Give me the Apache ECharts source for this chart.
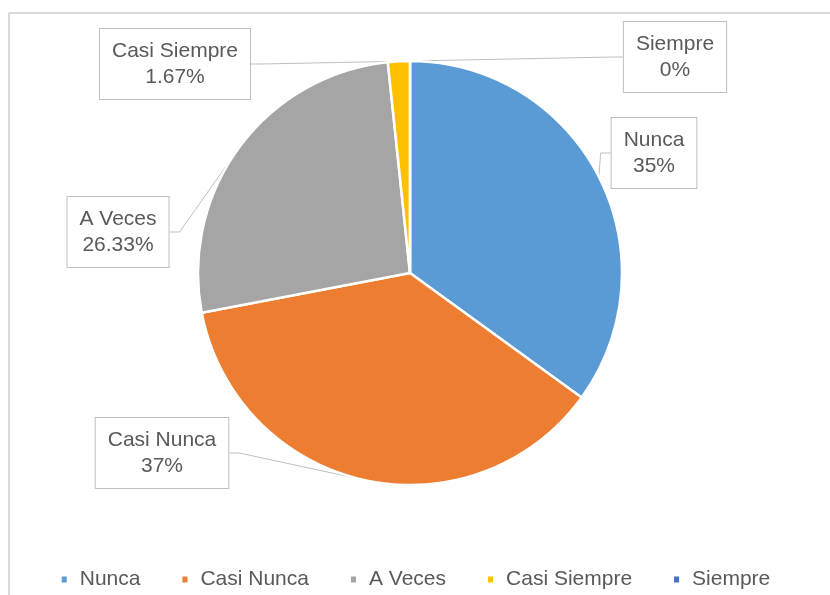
<!DOCTYPE html>
<html>
<head>
<meta charset="utf-8">
<script src="https://cdn.jsdelivr.net/npm/echarts@6/dist/echarts.min.js"></script>
<style>
 html, body { margin: 0; padding: 0; background: #fff; }
 #pie-chart { width: 830px; height: 595px; }
</style>
</head>
<body>
<div id="pie-chart"></div>
<script>
// datos de la gráfica
const categories = ['Nunca', 'Casi Nunca', 'A Veces', 'Casi Siempre', 'Siempre']
const percents = [35, 37, 26.33, 1.67, 0]
const colors = ['#5b9bd5', '#ed7d31', '#a5a5a5', '#ffc000', '#4472c4']

// centro de cada etiqueta (cajas)
const labelPos = [
 [654, 153],
 [162, 453],
 [118, 232],
 [175, 64],
 [675, 57]
]

const fontFamily = '"Liberation Sans", Arial, sans-serif'

const setOption = () => {
 return {
  animation: false,
  color: colors,
  graphic: [
   {
    type: 'line',
    shape: { x1: 9, y1: 13, x2: 830, y2: 13 },
    style: { stroke: '#d9d9d9', lineWidth: 2 }
   },
   {
    type: 'line',
    shape: { x1: 9, y1: 13, x2: 9, y2: 595 },
    style: { stroke: '#d9d9d9', lineWidth: 2 }
   }
  ],
  legend: {
   data: categories,
   left: 'center',
   top: 564,
   icon: 'rect',
   itemWidth: 7,
   itemHeight: 8,
   itemGap: 40,
   textStyle: {
    color: '#595959',
    fontSize: 21,
    fontFamily: fontFamily,
    padding: [0, 0, 0, 7]
   }
  },
  series: [
   {
    type: 'pie',
    center: [410, 273],
    radius: 212,
    startAngle: 90,
    clockwise: true,
    stillShowZeroSum: true,
    itemStyle: {
     borderColor: '#fff',
     borderWidth: 2.5
    },
    emphasis: { disabled: true },
    label: {
     show: true,
     formatter: '{b}\n{c}%',
     color: '#595959',
     fontSize: 21,
     fontFamily: fontFamily,
     lineHeight: 26,
     backgroundColor: '#fff',
     borderColor: '#bfbfbf',
     borderWidth: 1,
     padding: [9, 12]
    },
    labelLine: {
     show: true,
     length: 10,
     length2: 10,
     lineStyle: { color: '#bfbfbf', width: 1 }
    },
    labelLayout: function (params) {
     const p = labelPos[params.dataIndex]
     return {
      x: p[0],
      y: p[1],
      align: 'center',
      verticalAlign: 'middle'
     }
    },
    data: categories.map((name, i) => ({ name: name, value: percents[i] }))
   }
  ]
 }
}

const initChart = () => {
 const chartDom = document.getElementById('pie-chart')
 if (chartDom) {
  const myChart = echarts.init(chartDom)
  myChart.setOption(setOption(), true)
 }
}
initChart()
</script>
</body>
</html>
